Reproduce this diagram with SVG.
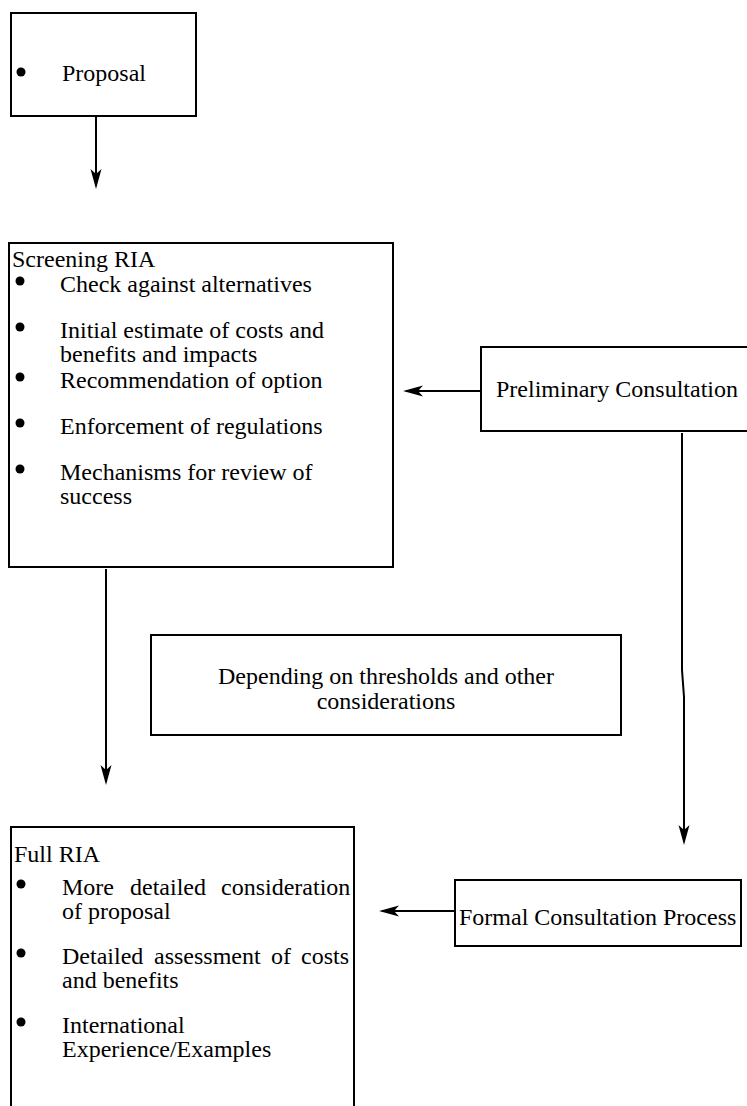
<svg xmlns="http://www.w3.org/2000/svg" width="747" height="1106" viewBox="0 0 747 1106">
<style>
.box{fill:#fff;stroke:#000;stroke-width:2}
.t{font-family:"Liberation Serif","Times New Roman",serif;font-size:24px;fill:#000}
.c{text-anchor:middle}
.b{fill:#000}
.con{fill:none;stroke:#000;stroke-width:2;marker-end:url(#arr)}
</style>
<defs>
<marker id="arr" markerUnits="userSpaceOnUse" viewBox="-22 -7 24 14" refX="-3" refY="0" markerWidth="24" markerHeight="14" orient="auto">
<path d="M0,0 L-20,-5.5 L-15,0 L-20,5.5 Z" fill="#000"/>
</marker>
</defs>
<rect width="747" height="1106" fill="#fff"/>
<g id="connectors">
<path class="con" d="M96,117 V186"/>
<path class="con" d="M481,391 H406"/>
<path class="con" d="M106,569 V782"/>
<path class="con" d="M682,433 V670 L684,697 V842"/>
<path class="con" d="M455,911 H382"/>
</g>
<g id="proposal">
<rect class="box" x="11" y="13" width="185" height="103"/>
<circle class="b" cx="21" cy="72" r="4.5"/>
<text class="t" x="62" y="81">Proposal</text>
</g>
<g id="screening">
<rect class="box" x="9" y="243" width="384" height="324"/>
<text class="t" x="12" y="267">Screening RIA</text>
<circle class="b" cx="20" cy="281" r="4.5"/>
<text class="t" x="60" y="292">Check against alternatives</text>
<circle class="b" cx="20" cy="327" r="4.5"/>
<text class="t" x="60" y="338">Initial estimate of costs and</text>
<text class="t" x="60" y="362">benefits and impacts</text>
<circle class="b" cx="20" cy="377" r="4.5"/>
<text class="t" x="60" y="388">Recommendation of option</text>
<circle class="b" cx="20" cy="423" r="4.5"/>
<text class="t" x="60" y="434">Enforcement of regulations</text>
<circle class="b" cx="20" cy="469" r="4.5"/>
<text class="t" x="60" y="480">Mechanisms for review of</text>
<text class="t" x="60" y="504">success</text>
</g>
<g id="preliminary">
<rect class="box" x="481" y="347" width="280" height="84"/>
<text class="t" x="496" y="397">Preliminary Consultation</text>
</g>
<g id="depending">
<rect class="box" x="151" y="635" width="470" height="100"/>
<text class="t c" x="386" y="684">Depending on thresholds and other</text>
<text class="t c" x="386" y="709">considerations</text>
</g>
<g id="full">
<rect class="box" x="11" y="827" width="343" height="300"/>
<text class="t" x="14" y="862">Full RIA</text>
<circle class="b" cx="21" cy="884" r="4.5"/>
<text class="t" y="895"><tspan x="62">More</tspan><tspan x="130">detailed</tspan><tspan x="221">consideration</tspan></text>
<text class="t" x="62" y="919">of proposal</text>
<circle class="b" cx="21" cy="953" r="4.5"/>
<text class="t" y="964"><tspan x="62">Detailed</tspan><tspan x="154">assessment</tspan><tspan x="271">of</tspan><tspan x="301">costs</tspan></text>
<text class="t" x="62" y="988">and benefits</text>
<circle class="b" cx="21" cy="1022" r="4.5"/>
<text class="t" x="62" y="1033">International</text>
<text class="t" x="62" y="1057">Experience/Examples</text>
</g>
<g id="formal">
<rect class="box" x="455" y="880" width="286" height="66"/>
<text class="t" x="459" y="925">Formal Consultation Process</text>
</g>
</svg>
